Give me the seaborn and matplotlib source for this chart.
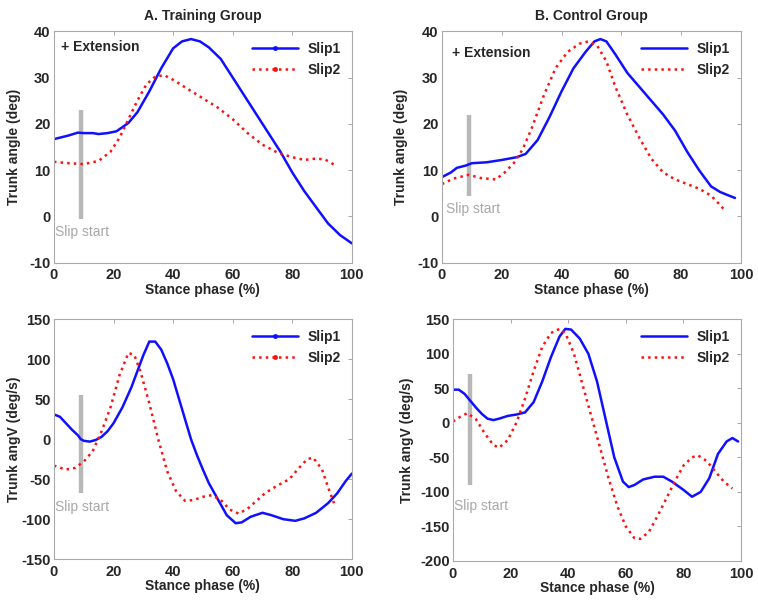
import numpy as np
import pandas as pd
import matplotlib
matplotlib.use("Agg")
import matplotlib.pyplot as plt
import seaborn as sns
from matplotlib.lines import Line2D

sns.set_style("white")
plt.rcParams['font.family'] = ['Liberation Sans', 'DejaVu Sans']
plt.rcParams['font.weight'] = 'bold'
plt.rcParams['axes.unicode_minus'] = False

# --- Trunk angle, training group ---
ta_x1 = [0, 5, 8, 10, 13, 15, 18, 21, 25, 28, 32, 36, 40, 43, 46, 49, 52, 56, 60, 64,
         68, 72, 76, 80, 84, 88, 92, 96, 100]
ta_y1 = [16.7, 17.5, 18.1, 18.0, 18.0, 17.8, 18.0, 18.4, 20.2, 22.5, 27.0, 32.0, 36.3, 37.8,
         38.3, 37.8, 36.5, 34.0, 30.0, 26.0, 22.0, 18.0, 14.0, 9.5, 5.5, 2.0, -1.5, -4.0, -5.8]
ta_x2 = [0, 5, 10, 15, 19, 22, 25, 28, 31, 34, 37, 40, 45, 50, 55, 60, 65, 70, 75, 80,
         84, 88, 91, 94]
ta_y2 = [11.8, 11.5, 11.3, 12.0, 14.0, 17.0, 21.0, 25.0, 28.5, 30.2, 30.5, 29.5, 27.5, 25.5,
         23.5, 21.0, 18.0, 15.5, 13.8, 12.8, 12.2, 12.5, 12.3, 11.2]

# --- Trunk angle, control group ---
tb_x1 = [0, 3, 5, 8, 10, 15, 20, 25, 28, 32, 36, 40, 44, 48, 51, 53, 55, 58, 62, 66,
         70, 74, 78, 82, 86, 90, 93, 96, 98]
tb_y1 = [8.5, 9.5, 10.5, 11.0, 11.5, 11.7, 12.2, 12.8, 13.5, 16.5, 21.5, 27.0, 32.0, 35.5,
         37.8, 38.3, 37.8, 35.0, 31.0, 28.0, 25.0, 22.0, 18.5, 14.0, 10.0, 6.5, 5.3, 4.5, 4.0]
tb_x2 = [0, 4, 9, 13, 18, 21, 24, 27, 30, 34, 38, 42, 46, 49, 52, 55, 58, 62, 66, 70,
         74, 78, 82, 86, 90, 93, 95]
tb_y2 = [7.0, 8.2, 9.0, 8.3, 8.0, 9.5, 11.5, 14.5, 19.0, 26.0, 32.0, 35.5, 37.3, 37.8, 36.8,
         33.5, 28.0, 22.0, 17.0, 12.5, 9.5, 8.0, 7.0, 6.0, 4.5, 2.5, 1.0]

# --- Angular velocity, training group ---
va_x1 = [0, 2, 4, 6, 8, 9, 10, 12, 14, 16, 18, 20, 23, 26, 28, 30, 32, 34, 36, 38, 40,
         42, 44, 46, 48, 50, 52, 55, 58, 61, 63, 66, 70, 73, 77, 81, 84, 88, 92, 95, 98, 100]
va_y1 = [31, 28, 20, 12, 5, 0, -2, -3, -1, 3, 10, 20, 40, 65, 85, 105, 122, 122, 112, 95,
         75, 50, 25, 0, -20, -38, -55, -75, -95, -105, -104, -97, -92, -95, -100, -102, -99,
         -92, -80, -68, -52, -43]
va_x2 = [0, 4, 7, 10, 13, 16, 19, 22, 25, 27, 29, 32, 35, 38, 41, 44, 47, 50, 53, 56, 59,
         62, 65, 68, 71, 75, 79, 82, 85, 87, 90, 92, 94]
va_y2 = [-33, -38, -36, -28, -15, 10, 40, 80, 108, 105, 85, 45, 0, -40, -65, -77, -76, -72,
         -70, -76, -88, -93, -87, -77, -67, -58, -50, -37, -25, -23, -38, -60, -80]

# --- Angular velocity, control group ---
vb_x1 = [0, 2, 4, 6, 8, 10, 12, 14, 16, 19, 22, 25, 28, 31, 34, 37, 39, 41, 44, 47, 50,
         53, 56, 59, 61, 63, 66, 70, 73, 76, 80, 83, 86, 89, 92, 95, 97, 99]
vb_y1 = [48, 48, 42, 32, 22, 13, 6, 4, 6, 10, 12, 15, 30, 60, 95, 125, 136, 135, 122, 100,
         60, 5, -50, -85, -93, -90, -82, -78, -78, -85, -97, -107, -100, -80, -45, -27, -22, -27]
vb_x2 = [0, 3, 5, 8, 11, 14, 16, 19, 22, 25, 28, 31, 34, 37, 39, 42, 45, 48, 51, 54, 57,
         60, 63, 65, 68, 71, 74, 77, 80, 83, 85, 88, 91, 94, 97]
vb_y2 = [2, 10, 14, 5, -15, -32, -36, -25, 0, 35, 75, 110, 130, 136, 130, 100, 55, 10, -35,
         -80, -120, -150, -167, -168, -158, -135, -110, -85, -62, -50, -47, -55, -70, -85, -95]

panels = [
    dict(pos=[0.0712, 0.562, 0.393, 0.386], s1=(ta_x1, ta_y1), s2=(ta_x2, ta_y2),
         ylim=(-10, 40), yticks=range(-10, 41, 10), ylabel='Trunk angle (deg)', ylx=-0.112,
         title='A. Training Group', bar=(9, -0.5, 23), slip=(0.5, -3.3), ext=(2.5, 36.5),
         mark=True),
    dict(pos=[0.583, 0.562, 0.3945, 0.386], s1=(tb_x1, tb_y1), s2=(tb_x2, tb_y2),
         ylim=(-10, 40), yticks=range(-10, 41, 10), ylabel='Trunk angle (deg)', ylx=-0.112,
         title='B. Control Group', bar=(9, 4.5, 22), slip=(1.5, 1.6), ext=(3.5, 35.4),
         mark=False),
    dict(pos=[0.0712, 0.068, 0.393, 0.400], s1=(va_x1, va_y1), s2=(va_x2, va_y2),
         ylim=(-150, 150), yticks=range(-150, 151, 50), ylabel='Trunk angV (deg/s)', ylx=-0.11,
         title=None, bar=(9, -67, 55), slip=(0.5, -85), ext=None, mark=True),
    dict(pos=[0.5976, 0.065, 0.380, 0.403], s1=(vb_x1, vb_y1), s2=(vb_x2, vb_y2),
         ylim=(-200, 150), yticks=range(-200, 151, 50), ylabel='Trunk angV (deg/s)', ylx=-0.137,
         title=None, bar=(6, -90, 70), slip=(0.5, -120), ext=None, mark=False),
]

fig = plt.figure(figsize=(7.58, 6.0), dpi=100)

for p in panels:
    ax = fig.add_axes(p['pos'])
    d1 = pd.DataFrame({'x': p['s1'][0], 'y': p['s1'][1]})
    d2 = pd.DataFrame({'x': p['s2'][0], 'y': p['s2'][1]})
    # slip start marker
    ax.plot([p['bar'][0], p['bar'][0]], [p['bar'][1], p['bar'][2]], color='#b8b8b8', lw=3.2,
            solid_capstyle='butt')
    ax.text(p['slip'][0], p['slip'][1], 'Slip start', color='#a8a8a8', fontsize=10,
            fontweight='normal', va='center', ha='left')
    sns.lineplot(data=d1, x='x', y='y', ax=ax, color='#1010ff', lw=1.8)
    sns.lineplot(data=d2, x='x', y='y', ax=ax, color='#ff1010', lw=1.8, linestyle=':')
    if p['ext']:
        ax.text(p['ext'][0], p['ext'][1], '+ Extension', fontsize=10, fontweight='bold',
                va='center')

    ax.set_xlim(0, 100)
    ax.set_ylim(*p['ylim'])
    ax.set_xticks(range(0, 101, 20))
    ax.set_yticks(list(p['yticks']))
    ax.set_xlabel('Stance phase (%)', fontsize=10, fontweight='bold', labelpad=0.5)
    ax.set_ylabel(p['ylabel'], fontsize=10, fontweight='bold')
    ax.yaxis.set_label_coords(p['ylx'], 0.5)
    if p['title']:
        ax.set_title(p['title'], fontsize=10, fontweight='bold', pad=8)
    ax.tick_params(direction='in', length=3, width=0.6, color='#999999', labelsize=10.5,
                   top=True, right=True)
    ax.tick_params(axis='x', pad=4)
    ax.tick_params(axis='y', pad=2.5)
    for lab in ax.get_xticklabels() + ax.get_yticklabels():
        lab.set_fontweight('bold')
    for sp in ax.spines.values():
        sp.set_color('#aaaaaa')
        sp.set_linewidth(0.8)

    mk = '.' if p['mark'] else None
    handles = [Line2D([], [], color='#1010ff', lw=1.8, marker=mk, markersize=5),
               Line2D([], [], color='#ff1010', lw=1.8, ls=':', marker=mk, markersize=5)]
    ax.legend(handles, ['Slip1', 'Slip2'], loc='upper right', frameon=False,
              handlelength=3.3, numpoints=1, borderaxespad=0.4, handletextpad=0.7,
              labelspacing=0.45, prop={'weight': 'bold', 'size': 10})

fig.savefig('out.png', dpi=100)
